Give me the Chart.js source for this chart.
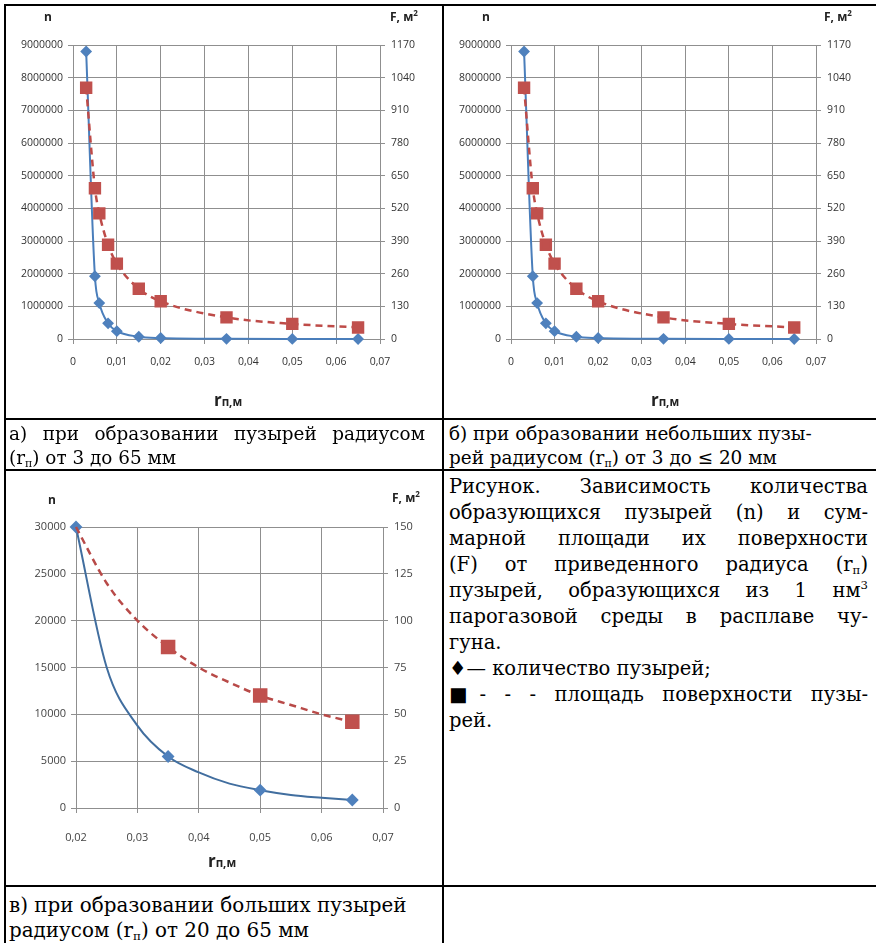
<!DOCTYPE html>
<html>
<head>
<meta charset="utf-8">
<script src="https://cdn.jsdelivr.net/npm/chart.js@4.4.0/dist/chart.umd.min.js"></script>
<style>
  body { margin: 0; background: #fff; }
  #page { position: relative; width: 876px; height: 943px; overflow: hidden; background: #fff; }
  .ln { position: absolute; background: #000; }
  canvas { position: absolute; }
  .lbl { position: absolute; font-family: 'Open Sans', sans-serif; font-weight: bold; font-size: 12px; color: #222; white-space: nowrap; }
  .lbl sup { font-size: 8px; vertical-align: 5px; line-height: 0; }
  .xt { position: absolute; font-family: 'Open Sans', sans-serif; font-weight: bold; color: #222; white-space: nowrap; transform: translateX(-50%); }
  .xt .r { font-size: 17px; }
  .xt .s { font-size: 11.5px; }
  .serif { position: absolute; font-family: 'DejaVu Serif', serif; color: #000; white-space: nowrap; }
  .serif sub { font-size: 0.6em; vertical-align: -0.25em; line-height: 0; }
  .serif sup { font-size: 0.6em; vertical-align: 0.7em; line-height: 0; }
  .j { text-align: justify; text-align-last: justify; }
</style>
</head>
<body>
<div id="page">
  <!-- таблица -->
  <div class="ln" style="left:4px;top:4px;width:872px;height:2px"></div>
  <div class="ln" style="left:4px;top:4px;width:2px;height:939px"></div>
  <div class="ln" style="left:442px;top:4px;width:2px;height:939px"></div>
  <div class="ln" style="left:4px;top:418px;width:872px;height:2px"></div>
  <div class="ln" style="left:4px;top:469px;width:872px;height:2px"></div>
  <div class="ln" style="left:4px;top:885px;width:872px;height:2px"></div>

  <canvas id="chartA" width="436" height="412" style="left:6px;top:6px"></canvas>
  <canvas id="chartB" width="430" height="412" style="left:445px;top:6px"></canvas>
  <canvas id="chartC" width="436" height="412" style="left:6px;top:472px"></canvas>

  <div class="lbl" style="left:44px;top:8px">n</div>
  <div class="lbl" style="left:390px;top:8px">F, м<sup>2</sup></div>
  <div class="xt" style="left:228px;top:388px"><span class="r">r</span><span class="s">п,м</span></div>

  <div class="lbl" style="left:482px;top:8px">n</div>
  <div class="lbl" style="left:824px;top:8px">F, м<sup>2</sup></div>
  <div class="xt" style="left:665px;top:388px"><span class="r">r</span><span class="s">п,м</span></div>

  <div class="lbl" style="left:48px;top:491px">n</div>
  <div class="lbl" style="left:392px;top:489px">F, м<sup>2</sup></div>
  <div class="xt" style="left:222px;top:849px"><span class="r">r</span><span class="s">п,м</span></div>

  <div class="serif" style="left:9px;top:422px;width:416px;font-size:18.4px;line-height:24px">
    <div class="j">а) при образовании пузырей радиусом</div>
    <div>(r<sub>п</sub>) от 3 до 65 мм</div>
  </div>
  <div class="serif" style="left:449px;top:422px;font-size:18.4px;line-height:24px">
    <div>б) при образовании небольших пузы-</div>
    <div>рей радиусом (r<sub>п</sub>) от 3 до ≤ 20 мм</div>
  </div>

  <div class="serif" style="left:449px;top:474px;width:419px;font-size:19.5px;line-height:26px">
    <div class="j">Рисунок. Зависимость количества</div>
    <div class="j">образующихся пузырей (n) и сум-</div>
    <div class="j">марной площади их поверхности</div>
    <div class="j">(F) от приведенного радиуса (r<sub>п</sub>)</div>
    <div class="j">пузырей, образующихся из 1 нм<sup>3</sup></div>
    <div class="j">парогазовой среды в расплаве чу-</div>
    <div>гуна.</div>
    <div>♦— количество пузырей;</div>
    <div class="j">■- - - площадь поверхности пузы-</div>
    <div>рей.</div>
  </div>

  <div class="serif" style="left:9px;top:893px;font-size:19.9px;line-height:25px">
    <div>в) при образовании больших пузырей</div>
    <div>радиусом (r<sub>п</sub>) от 20 до 65 мм</div>
  </div>
</div>

<script>
// радиус пузыря, м
const radiusAll = [0.003, 0.005, 0.006, 0.008, 0.01, 0.015, 0.02, 0.035, 0.05, 0.065];
// количество пузырей n
const countAll = [8800000, 1920000, 1100000, 480000, 240000, 70000, 30000, 5500, 1900, 870];
// площадь поверхности F, м2
const areaAll = [1000, 600, 500, 375, 300, 200, 150, 86, 60, 46];

// крупные пузыри (рисунок в), точки кривых
const radiusLarge = [0.02, 0.025, 0.03, 0.035, 0.04, 0.045, 0.05, 0.055, 0.06, 0.065];
const countLarge = [30000, 15000, 8800, 5500, 3800, 2600, 1900, 1400, 1100, 850];
const areaLarge = [150, 120, 100, 86, 75, 67, 60, 55, 50, 46];
const markedLarge = [0.035, 0.05, 0.065];          // точки с маркерами (площадь)
const markedCountLarge = [0.02, 0.035, 0.05, 0.065]; // точки с маркерами (количество)

const GRID = '#8f8f8f';

function toPoints(xs, ys) {
    return xs.map((x, i) => ({ x: x, y: ys[i] }));
}

function fmtX(v) {
    return v === 0 ? '0' : v.toFixed(2).replace('.', ',');
}

function makeChart(id, o) {
    const ctx = document.getElementById(id).getContext('2d');
    const font = { family: 'Open Sans', size: o.fontSize };
    return new Chart(ctx, {
        type: 'line',
        data: {
            datasets: [{
                label: 'F',
                data: toPoints(o.xs, o.area),
                yAxisID: 'yF',
                borderColor: o.red,
                backgroundColor: '#C0504D',
                borderWidth: 2.5,
                borderDash: [7, 5],
                pointStyle: 'rect',
                pointRadius: o.redRadius,
                pointBorderColor: '#C0504D',
                cubicInterpolationMode: 'monotone',
                clip: false
            }, {
                label: 'n',
                data: toPoints(o.xs, o.count),
                yAxisID: 'yN',
                borderColor: o.blue,
                backgroundColor: '#4F81BD',
                borderWidth: 2,
                pointStyle: 'rectRot',
                pointRadius: o.blueRadius,
                pointBorderColor: '#4F81BD',
                cubicInterpolationMode: 'monotone',
                clip: false
            }]
        },
        options: {
            responsive: false,
            animation: false,
            layout: { padding: { top: o.top, left: 0, right: 0, bottom: 0 } },
            plugins: { legend: { display: false }, tooltip: { enabled: false } },
            scales: {
                x: {
                    type: 'linear',
                    min: o.xMin, max: o.xMax,
                    afterFit: (s) => { s.height = o.xHeight; },
                    grid: { color: GRID, tickLength: 5, tickColor: GRID },
                    border: { color: GRID },
                    ticks: { stepSize: 0.01, font: font, color: o.tickColor, padding: o.xPad, callback: fmtX, maxRotation: 0 }
                },
                yN: {
                    position: 'left',
                    min: 0, max: o.nMax,
                    afterFit: (s) => { s.width = o.leftW; },
                    grid: { color: GRID, tickLength: 5, tickColor: GRID },
                    border: { color: GRID },
                    ticks: { stepSize: o.nStep, font: font, color: o.tickColor, padding: 5, callback: (v) => String(v) }
                },
                yF: {
                    position: 'right',
                    min: 0, max: o.fMax,
                    afterFit: (s) => { s.width = o.rightW; },
                    grid: { drawOnChartArea: false, tickLength: 5, tickColor: GRID },
                    border: { color: GRID },
                    ticks: { stepSize: o.fStep, font: font, color: o.tickColor, padding: 6, callback: (v) => String(v) }
                }
            }
        }
    });
}

const common = {
    xs: radiusAll, count: countAll, area: areaAll,
    xMin: 0, xMax: 0.07, nMax: 9000000, nStep: 1000000, fMax: 1170, fStep: 130,
    top: 39, xHeight: 79, xPad: 12, fontSize: 10.5, tickColor: '#333',
    red: '#BE4B48', blue: '#4A7EBB', redRadius: 7, blueRadius: 4.5
};

makeChart('chartA', Object.assign({}, common, { leftW: 67, rightW: 62 }));
makeChart('chartB', Object.assign({}, common, { leftW: 66, rightW: 59 }));

makeChart('chartC', {
    xs: radiusLarge, count: countLarge, area: areaLarge,
    xMin: 0.02, xMax: 0.07, nMax: 30000, nStep: 5000, fMax: 150, fStep: 25,
    top: 55, xHeight: 76, xPad: 18, fontSize: 11, tickColor: '#444',
    leftW: 70, rightW: 59,
    red: '#B84A48', blue: '#416E9F',
    redRadius: radiusLarge.map((r) => markedLarge.includes(r) ? 8.5 : 0),
    blueRadius: radiusLarge.map((r) => markedCountLarge.includes(r) ? 5 : 0)
});
</script>
</body>
</html>
